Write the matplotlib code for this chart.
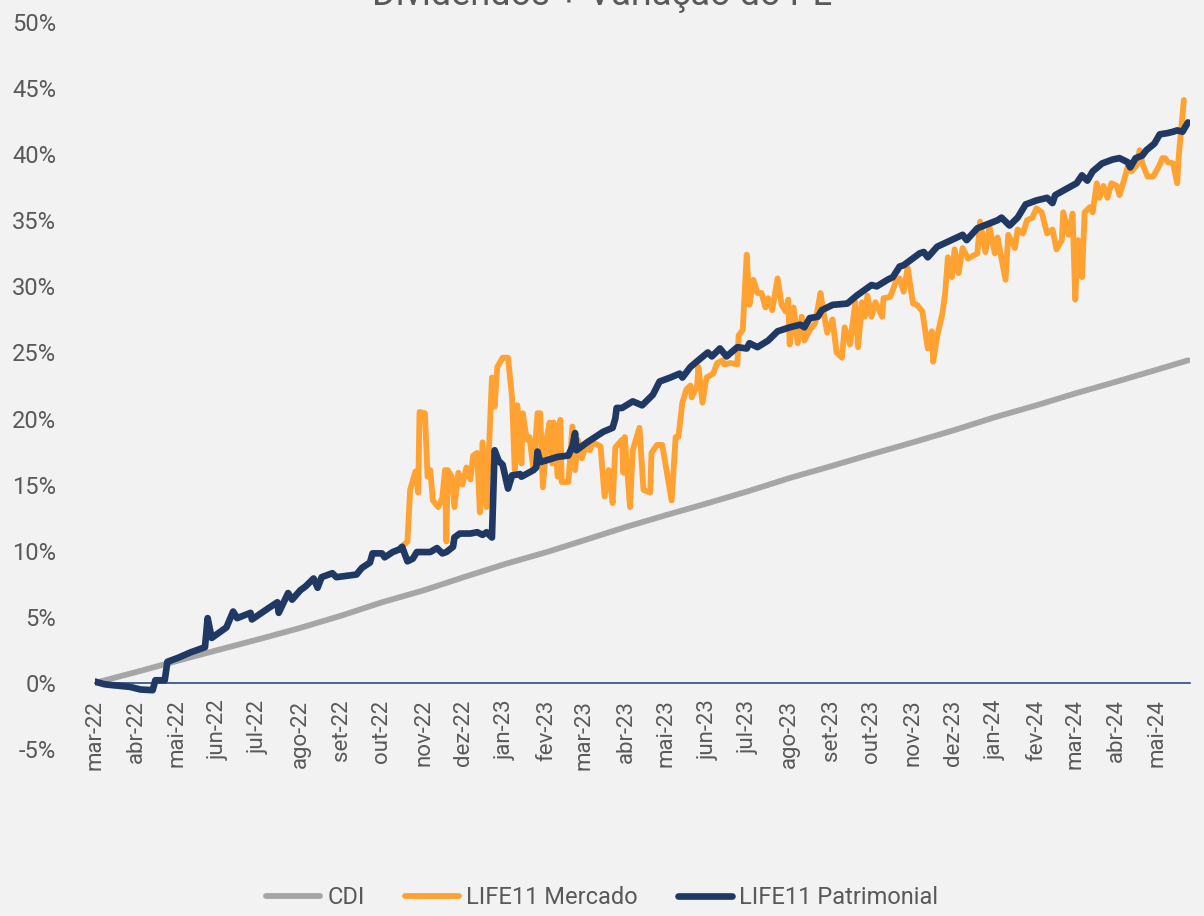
import matplotlib
matplotlib.use("Agg")
import matplotlib.pyplot as plt
import pandas as pd
from matplotlib import font_manager

names = {f.name for f in font_manager.fontManager.ttflist}
cands = ["Liberation Sans Narrow", "DejaVu Sans Condensed", "Roboto", "DejaVu Sans"]
fams = [c for c in cands if c in names] or ["DejaVu Sans"]
plt.rcParams["font.family"] = fams
plt.rcParams["axes.unicode_minus"] = False

START = "2022-03-01"
TITLE = "Dividendos + Variação do PL"
MONTHS_PT = ["jan", "fev", "mar", "abr", "mai", "jun", "jul", "ago", "set", "out", "nov", "dez"]

# CDI (days since START, cumulative %)
cdi_days = [0, 31, 61, 92, 122, 153, 184, 214, 245, 275, 306, 337, 365, 396, 426,
            457, 487, 518, 549, 579, 610, 640, 671, 702, 731, 762, 792, 815]
cdi_vals = [0.0, 0.83, 1.66, 2.5, 3.3, 4.16, 5.1, 6.1, 7.0, 8.0, 9.0, 9.9, 10.8, 11.8, 12.7,
            13.6, 14.5, 15.5, 16.4, 17.3, 18.2, 19.1, 20.1, 21.0, 21.9, 22.8, 23.7, 24.4]

# LIFE11 Patrimonial
pat_days = [0, 7, 11, 26, 34, 43, 45, 52, 54, 62, 71, 82, 84, 87, 98, 103, 106, 116, 117,
            130, 136, 137, 144, 147, 153, 157, 163, 166, 169, 177, 180, 195, 199, 205, 207,
            214, 216, 222, 227, 229, 233, 237, 240, 250, 255, 259, 262, 267, 268, 272, 280,
            285, 289, 292, 296, 298, 301, 304, 308, 311, 317, 318, 327, 329, 330, 332, 345,
            353, 356, 358, 359, 367, 379, 386, 388, 389, 393, 401, 408, 416, 421, 429, 436,
            438, 444, 451, 457, 460, 466, 471, 479, 486, 488, 494, 502, 509, 518, 526, 529,
            533, 539, 542, 550, 561, 568, 579, 583, 591, 595, 600, 603, 615, 618, 621, 628,
            647, 650, 658, 673, 676, 682, 688, 694, 702, 710, 714, 716, 723, 732, 736, 740,
            744, 751, 759, 764, 770, 772, 776, 781, 784, 790, 794, 800, 804, 807, 811, 815]
pat_vals = [0.1, -0.1, -0.15, -0.3, -0.5, -0.55, 0.2, 0.2, 1.6, 1.9, 2.3, 2.7, 4.9, 3.4,
            4.2, 5.4, 4.9, 5.3, 4.8, 5.7, 6.1, 5.3, 6.8, 6.3, 7.0, 7.3, 7.9, 7.2, 8.0, 8.3,
            8.0, 8.2, 8.7, 9.1, 9.8, 9.8, 9.5, 9.9, 10.1, 10.3, 9.2, 9.4, 9.9, 9.9, 10.2,
            9.8, 9.9, 10.3, 11.0, 11.3, 11.3, 11.4, 11.2, 11.4, 11.0, 17.6, 16.8, 16.5, 14.7,
            15.7, 15.8, 15.6, 16.1, 16.3, 17.5, 16.7, 17.1, 17.2, 17.9, 18.9, 17.6, 18.2,
            19.0, 19.3, 20.0, 20.8, 20.8, 21.3, 21.0, 21.8, 22.8, 23.1, 23.4, 23.1, 23.9,
            24.5, 25.0, 24.7, 25.3, 24.7, 25.4, 25.3, 25.7, 25.4, 25.9, 26.6, 26.9, 27.1,
            26.9, 27.6, 27.7, 28.2, 28.6, 28.7, 29.3, 30.1, 30.0, 30.5, 30.7, 31.5, 31.6,
            32.5, 32.6, 32.2, 33.0, 33.9, 33.5, 34.4, 35.0, 35.2, 34.6, 35.2, 36.2, 36.5,
            36.7, 36.3, 36.9, 37.3, 37.8, 38.4, 38.0, 38.7, 39.3, 39.6, 39.7, 39.4, 39.0,
            39.7, 39.9, 40.3, 40.8, 41.5, 41.6, 41.7, 41.8, 41.7, 42.4]

# LIFE11 Mercado
mer_days = [227, 233, 235, 239, 241, 242, 246, 248, 250, 252, 256, 259, 261, 262, 263, 266,
            268, 271, 274, 277, 280, 282, 285, 287, 289, 292, 296, 298, 300, 304, 308, 311,
            313, 315, 318, 319, 322, 324, 327, 330, 332, 334, 337, 339, 341, 342, 345, 347,
            348, 353, 356, 358, 360, 363, 367, 369, 371, 377, 380, 383, 386, 388, 393, 394,
            395, 399, 401, 406, 409, 414, 415, 419, 423, 427, 430, 433, 435, 438, 441, 444,
            445, 449, 450, 453, 456, 461, 464, 468, 469, 474, 479, 480, 483, 486, 488, 491,
            494, 497, 500, 502, 505, 509, 512, 515, 517, 518, 521, 524, 527, 529, 533, 537,
            541, 543, 546, 550, 553, 557, 559, 563, 567, 569, 572, 574, 576, 579, 582, 587,
            588, 593, 597, 600, 603, 606, 610, 613, 617, 621, 624, 625, 628, 632, 634, 636,
            639, 641, 644, 647, 651, 658, 660, 664, 667, 671, 673, 679, 681, 686, 688, 692,
            695, 699, 702, 706, 710, 714, 717, 721, 722, 726, 729, 731, 733, 736, 738, 742,
            744, 747, 749, 752, 755, 758, 762, 764, 767, 770, 773, 777, 779, 781, 785, 789,
            793, 796, 798, 800, 804, 807, 808, 809, 812]
mer_vals = [10.1, 10.7, 14.6, 16.0, 14.4, 20.5, 20.4, 15.6, 16.1, 13.8, 13.3, 14.0, 16.1,
            10.7, 16.1, 15.6, 13.3, 15.9, 15.0, 16.3, 15.4, 17.2, 17.4, 12.9, 18.2, 13.3,
            23.1, 20.9, 23.9, 24.6, 24.6, 21.6, 16.1, 21.0, 16.6, 20.4, 18.4, 18.6, 16.1,
            20.4, 20.4, 14.8, 18.6, 19.7, 16.6, 19.7, 15.6, 19.9, 15.2, 15.2, 19.4, 16.1,
            18.4, 17.0, 18.2, 17.6, 18.2, 17.9, 14.1, 16.1, 13.6, 17.8, 18.4, 15.9, 18.6,
            13.3, 17.6, 19.3, 14.6, 14.4, 17.4, 18.0, 18.0, 15.6, 13.8, 18.6, 18.6, 21.2,
            22.2, 22.5, 21.6, 22.5, 23.9, 21.2, 23.1, 23.4, 24.2, 24.4, 24.1, 24.2, 24.1,
            26.3, 26.7, 32.4, 28.6, 30.5, 29.5, 29.5, 28.4, 29.1, 28.2, 30.6, 28.6, 28.1,
            29.0, 25.6, 28.4, 25.7, 27.7, 25.9, 26.7, 27.2, 29.5, 28.2, 26.5, 27.5, 25.0,
            24.6, 26.9, 25.6, 28.8, 25.4, 28.8, 27.7, 29.3, 27.7, 28.8, 27.7, 29.1, 29.2,
            30.3, 30.6, 29.6, 31.4, 28.7, 28.6, 28.1, 25.3, 26.6, 24.3, 26.2, 28.0, 29.5,
            32.2, 30.7, 32.8, 31.0, 32.9, 32.1, 32.5, 34.9, 32.6, 34.5, 32.5, 33.7, 30.5,
            33.9, 32.9, 34.3, 34.0, 35.0, 35.2, 35.9, 35.6, 34.0, 34.3, 32.8, 33.5, 35.6,
            33.9, 35.5, 29.0, 33.5, 30.7, 35.6, 36.0, 35.6, 37.8, 36.7, 37.6, 36.7, 37.8,
            37.6, 36.9, 37.9, 39.0, 38.7, 39.2, 40.3, 39.3, 38.3, 38.3, 39.0, 39.7, 39.7,
            39.4, 39.3, 37.8, 39.6, 40.8, 44.1]

C_CDI = "#A6A6A6"
C_MER = "#FFA231"
C_PAT = "#203864"
TXT = "#595959"
BG = "#F2F2F2"

W, H = 1204, 916
fig = plt.figure(figsize=(W / 100, H / 100), dpi=100, facecolor=BG)
ax = fig.add_axes([95 / W, 1 - 749 / H, (1190 - 95) / W, (749 - 22) / H], facecolor=BG)

kw = dict(solid_joinstyle="round", solid_capstyle="round")
ax.plot(cdi_days, cdi_vals, color=C_CDI, lw=4.2, label="CDI", **kw)
ax.plot(mer_days, mer_vals, color=C_MER, lw=4.2, label="LIFE11 Mercado", **kw)
ax.plot(pat_days, pat_vals, color=C_PAT, lw=4.8, label="LIFE11 Patrimonial", **kw)

px_per_day = 1.341
ax.set_xlim(0, (1190 - 95) / px_per_day)
ax.set_ylim(-5, 50)

start = pd.Timestamp(START)
mstarts = pd.date_range(START, "2024-05-01", freq="MS")
ax.set_xticks([(d - start).days for d in mstarts])
ax.set_xticklabels([f"{MONTHS_PT[d.month - 1]}-{d.strftime('%y')}" for d in mstarts])
yt = list(range(-5, 51, 5))
ax.set_yticks(yt)
ax.set_yticklabels([f"{v}%" for v in yt])

for s in ["top", "right", "left"]:
    ax.spines[s].set_visible(False)
ax.spines["bottom"].set_position(("data", 0))
ax.spines["bottom"].set_color("#2F4A80")
ax.spines["bottom"].set_linewidth(1.2)
ax.spines["bottom"].set_zorder(1)
ax.tick_params(axis="x", length=0, pad=12, labelsize=16, labelcolor=TXT, labelrotation=90)
ax.tick_params(axis="y", length=0, pad=28, labelsize=17, labelcolor=TXT)
for t in ax.get_xticklabels():
    t.set_verticalalignment("top")
    t.set_horizontalalignment("center")

fig.text(0.5, 1 - 5 / H, TITLE, ha="center", va="baseline", fontsize=26, color=TXT)

fig.legend(loc="center", bbox_to_anchor=(0.5, 1 - 898 / H), ncol=3, frameon=False,
           fontsize=17, labelcolor=TXT, handlelength=2.3, handletextpad=0.3,
           columnspacing=1.7)

fig.savefig("out.png", dpi=100, facecolor=BG)
